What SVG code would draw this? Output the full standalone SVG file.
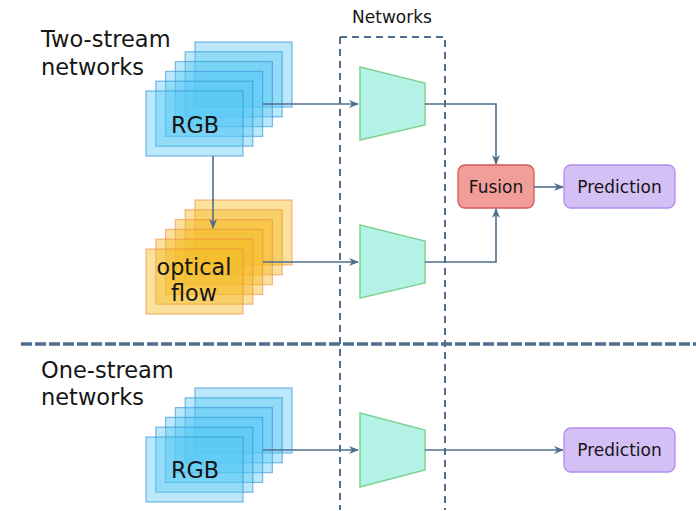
<svg xmlns="http://www.w3.org/2000/svg" width="696" height="511" viewBox="0 0 696 511">
<style>
text{font-family:"DejaVu Sans","Verdana",sans-serif;fill:#151515}
.lbl{font-size:22.5px}
.big{font-size:22.3px;text-anchor:middle}
.rgb rect{fill:#55c8f5;fill-opacity:0.4;stroke:#3592d6;stroke-opacity:0.6;stroke-width:1.3}
.of rect{fill:#f5bc28;fill-opacity:0.45;stroke:#f08a3a;stroke-opacity:0.55;stroke-width:1.3}
.net{fill:#b5f2e6;stroke:#7fd294;stroke-width:1.5}
.conn{fill:none;stroke:#4f6e8f;stroke-width:1.6}
.dash{fill:none;stroke:#4f6e8f;stroke-width:2;stroke-dasharray:7 5}
.box{font-size:17px;text-anchor:middle}
</style>
<defs>
<marker id="ah" viewBox="0 0 10 10" refX="9" refY="5" markerWidth="10" markerHeight="10" orient="auto" markerUnits="userSpaceOnUse">
<path d="M0,1 L10,5 L0,9 L3,5 Z" fill="#4f6e8f"/>
</marker>
</defs>
<rect width="696" height="511" fill="#ffffff"/>

<g id="labels">
<text class="lbl" x="41" y="47">Two-stream</text>
<text class="lbl" x="41" y="75">networks</text>
<text class="lbl" x="41" y="378">One-stream</text>
<text class="lbl" x="41" y="405">networks</text>
<text x="392" y="23" font-size="17" text-anchor="middle">Networks</text>
</g>

<g id="dividers">
<path class="dash" d="M340,37 H445 V510 M340,37 V510"/>
<path d="M21,344 H696" fill="none" stroke="#4f6e8f" stroke-width="3.5" stroke-dasharray="11 3"/>
</g>

<g id="rgb-top" class="rgb">
<rect x="195" y="42" width="97" height="65"/>
<rect x="185.2" y="51.8" width="97" height="65"/>
<rect x="175.4" y="61.6" width="97" height="65"/>
<rect x="165.6" y="71.4" width="97" height="65"/>
<rect x="155.8" y="81.2" width="97" height="65"/>
<rect x="146" y="91" width="97" height="65"/>
<text class="big" x="195" y="133">RGB</text>
</g>

<g id="optical-flow" class="of">
<rect x="195" y="200" width="97" height="65"/>
<rect x="185.2" y="209.8" width="97" height="65"/>
<rect x="175.4" y="219.6" width="97" height="65"/>
<rect x="165.6" y="229.4" width="97" height="65"/>
<rect x="155.8" y="239.2" width="97" height="65"/>
<rect x="146" y="249" width="97" height="65"/>
<text class="big" x="194" y="275">optical</text>
<text class="big" x="194" y="301">flow</text>
</g>

<g id="rgb-bottom" class="rgb">
<rect x="195" y="388" width="97" height="65"/>
<rect x="185.2" y="397.8" width="97" height="65"/>
<rect x="175.4" y="407.6" width="97" height="65"/>
<rect x="165.6" y="417.4" width="97" height="65"/>
<rect x="155.8" y="427.2" width="97" height="65"/>
<rect x="146" y="437" width="97" height="65"/>
<text class="big" x="195" y="478">RGB</text>
</g>

<g id="net1"><path class="net" d="M360,67 L425,83 L425,125 L360,140 Z"/></g>
<g id="net2"><path class="net" d="M360,225 L425,241 L425,283 L360,298 Z"/></g>
<g id="net3"><path class="net" d="M360,413 L425,430 L425,470 L360,487 Z"/></g>

<g id="fusion">
<rect x="458" y="165" width="76" height="43" rx="7" fill="#f19e9b" stroke="#d35a55" stroke-width="1.3"/>
<text class="box" x="496" y="192.5">Fusion</text>
</g>
<g id="prediction1">
<rect x="564" y="165" width="111" height="43" rx="7" fill="#d4c0f4" stroke="#b48cef" stroke-width="1.3"/>
<text class="box" x="619.5" y="192.5">Prediction</text>
</g>
<g id="prediction2">
<rect x="564" y="428" width="111" height="44" rx="7" fill="#d4c0f4" stroke="#b48cef" stroke-width="1.3"/>
<text class="box" x="619.5" y="456">Prediction</text>
</g>

<g id="connectors">
<path class="conn" d="M263,104 H358" marker-end="url(#ah)"/>
<path class="conn" d="M213,156 V228" marker-end="url(#ah)"/>
<path class="conn" d="M263,262 H358" marker-end="url(#ah)"/>
<path class="conn" d="M263,450 H358" marker-end="url(#ah)"/>
<path class="conn" d="M425,104 H496 V164" marker-end="url(#ah)"/>
<path class="conn" d="M425,262 H496 V209" marker-end="url(#ah)"/>
<path class="conn" d="M534,187 H563" marker-end="url(#ah)"/>
<path class="conn" d="M425,450 H563" marker-end="url(#ah)"/>
</g>
</svg>
